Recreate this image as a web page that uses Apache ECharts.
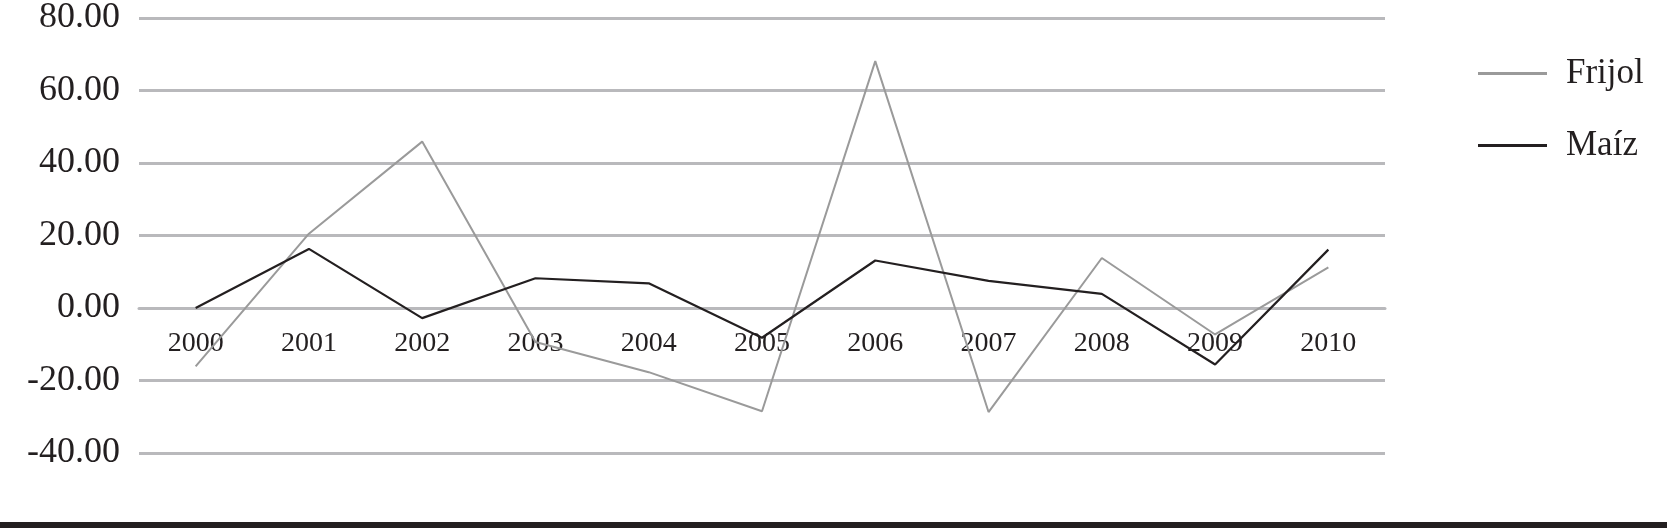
<!DOCTYPE html>
<html>
<head>
<meta charset="utf-8">
<script src="https://cdn.jsdelivr.net/npm/echarts@6/dist/echarts.min.js"></script>
<style>
  html, body { margin: 0; padding: 0; background: #fff; }
  #chart { width: 1667px; height: 528px; }
</style>
</head>
<body>
<div id="chart"></div>
<script>
// datos
const years = ["2000", "2001", "2002", "2003", "2004", "2005", "2006", "2007", "2008", "2009", "2010"];
const frijol = [-16.1, 20.5, 45.9, -9.4, -17.7, -28.5, 68.1, -28.7, 13.8, -7.3, 11.2];
const maiz = [0.0, 16.3, -2.8, 8.2, 6.8, -8.2, 13.1, 7.5, 3.9, -15.6, 16.1];

const serif = "'Liberation Serif', 'Times New Roman', serif";
const ink = "#231f20";
const gridGrey = "#b9b9bc";

const chart = echarts.init(document.getElementById("chart"));

chart.setOption({
  animation: false,
  backgroundColor: "#fff",
  grid: { left: 139, right: 282, top: 18, bottom: 75 },
  legend: {
    orient: "vertical",
    left: 1473,
    top: 51,
    icon: "rect",
    itemWidth: 69,
    itemHeight: 3,
    itemGap: 37,
    textStyle: {
      fontFamily: serif,
      fontSize: 35,
      lineHeight: 35,
      color: ink,
      padding: [0, 0, 0, 14],
    },
    data: ["Frijol", "Maíz"],
  },
  xAxis: {
    type: "category",
    data: years,
    boundaryGap: true,
    // las etiquetas van pegadas a la línea del cero
    offset: -145,
    axisLine: { onZero: false, lineStyle: { color: gridGrey, width: 3 } },
    axisTick: { show: false },
    axisLabel: {
      fontFamily: serif,
      fontSize: 28,
      color: ink,
      margin: 22,
    },
  },
  yAxis: {
    type: "value",
    min: -40,
    max: 80,
    interval: 20,
    axisLine: { show: false },
    axisTick: { show: false },
    splitLine: { lineStyle: { color: gridGrey, width: 3 } },
    axisLabel: {
      fontFamily: serif,
      fontSize: 36,
      color: ink,
      margin: 19,
      formatter: (v) => v.toFixed(2),
    },
  },
  series: [
    {
      name: "Frijol",
      type: "line",
      data: frijol,
      symbol: "none",
      itemStyle: { color: "#9a9a9a" },
      lineStyle: { color: "#9a9a9a", width: 2 },
      z: 3,
    },
    {
      name: "Maíz",
      type: "line",
      data: maiz,
      symbol: "none",
      itemStyle: { color: ink },
      lineStyle: { color: ink, width: 2.2 },
      z: 4,
    },
  ],
  graphic: [
    {
      type: "rect",
      left: 0,
      top: 522,
      shape: { width: 1667, height: 6 },
      style: { fill: ink },
    },
  ],
});
</script>
</body>
</html>
